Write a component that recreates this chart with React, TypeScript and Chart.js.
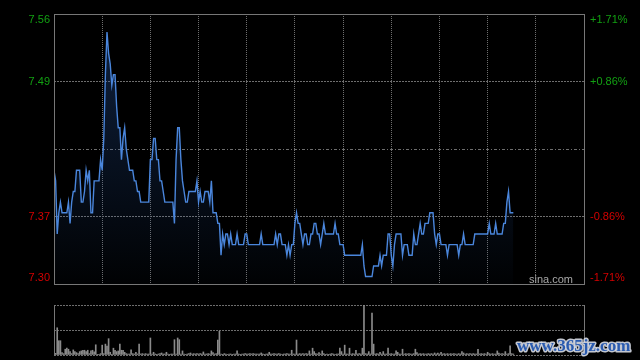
import React, { useEffect, useRef } from "react";
import { Chart, registerables } from "chart.js";

Chart.register(...registerables);

// Hong Kong session: 09:30-12:00, 13:00-16:00 -> 330 minutes, gridline every 30 minutes
const sessionMinutes = 330;
const gridStep = 30;

// Minute prices (index = minute since open)
const prices = [
  7.41, 7.40, 7.35, 7.37, 7.38, 7.37, 7.37, 7.37, 7.37, 7.38,
  7.36, 7.38, 7.39, 7.39, 7.41, 7.41, 7.41, 7.38, 7.38, 7.39,
  7.41, 7.40, 7.41, 7.37, 7.37, 7.40, 7.40, 7.40, 7.40, 7.42,
  7.41, 7.44, 7.50, 7.54, 7.52, 7.51, 7.49, 7.50, 7.50, 7.47,
  7.45, 7.45, 7.42, 7.44, 7.45, 7.43, 7.42, 7.41, 7.41, 7.41,
  7.40, 7.40, 7.39, 7.39, 7.38, 7.38, 7.38, 7.38, 7.38, 7.38,
  7.42, 7.42, 7.44, 7.44, 7.42, 7.42, 7.40, 7.40, 7.39, 7.38,
  7.38, 7.38, 7.38, 7.38, 7.38, 7.36, 7.42, 7.45, 7.45, 7.42,
  7.40, 7.39, 7.38, 7.38, 7.39, 7.39, 7.39, 7.39, 7.39, 7.40,
  7.38, 7.39, 7.38, 7.38, 7.39, 7.39, 7.39, 7.38, 7.40, 7.37,
  7.37, 7.37, 7.36, 7.36, 7.33, 7.35, 7.34, 7.35, 7.35, 7.34,
  7.35, 7.34, 7.34, 7.34, 7.35, 7.34, 7.34, 7.34, 7.34, 7.35,
  7.35, 7.34, 7.34, 7.34, 7.34, 7.34, 7.34, 7.34, 7.34, 7.35,
  7.34, 7.34, 7.34, 7.34, 7.34, 7.34, 7.34, 7.34, 7.35, 7.34,
  7.35, 7.35, 7.34, 7.34, 7.34, 7.33, 7.34, 7.33, 7.34, 7.34,
  7.36, 7.37, 7.36, 7.36, 7.35, 7.34, 7.35, 7.35, 7.34, 7.34,
  7.35, 7.35, 7.36, 7.36, 7.35, 7.35, 7.34, 7.35, 7.36, 7.35,
  7.35, 7.35, 7.35, 7.35, 7.35, 7.36, 7.35, 7.35, 7.34, 7.34,
  7.34, 7.33, 7.33, 7.33, 7.33, 7.33, 7.33, 7.33, 7.33, 7.33,
  7.33, 7.33, 7.34, 7.32, 7.31, 7.31, 7.31, 7.31, 7.31, 7.32,
  7.32, 7.32, 7.32, 7.33, 7.32, 7.33, 7.33, 7.33, 7.35, 7.35,
  7.33, 7.32, 7.34, 7.35, 7.35, 7.35, 7.35, 7.33, 7.34, 7.34,
  7.34, 7.33, 7.33, 7.33, 7.35, 7.34, 7.34, 7.35, 7.36, 7.35,
  7.35, 7.36, 7.36, 7.36, 7.37, 7.37, 7.37, 7.35, 7.34, 7.35,
  7.35, 7.34, 7.34, 7.34, 7.34, 7.33, 7.34, 7.34, 7.34, 7.34,
  7.34, 7.34, 7.33, 7.34, 7.34, 7.35, 7.34, 7.34, 7.34, 7.34,
  7.34, 7.34, 7.35, 7.35, 7.35, 7.35, 7.35, 7.35, 7.35, 7.35,
  7.35, 7.36, 7.35, 7.35, 7.35, 7.36, 7.35, 7.35, 7.35, 7.35,
  7.36, 7.36, 7.38, 7.39, 7.37, 7.37, 7.37,
];

// Minute volumes (relative units)
const volumes = [
  80, 5, 80, 42, 42, 7, 4, 17, 20, 17,
  10, 4, 15, 10, 7, 4, 10, 12, 14, 14,
  10, 14, 4, 12, 14, 9, 30, 2, 2, 4,
  29, 4, 32, 26, 48, 8, 2, 20, 14, 10,
  12, 32, 14, 14, 8, 4, 3, 3, 15, 4,
  3, 8, 3, 32, 3, 4, 3, 4, 3, 3,
  50, 3, 8, 3, 2, 3, 4, 6, 3, 3,
  8, 3, 2, 3, 3, 45, 3, 50, 45, 3,
  12, 3, 2, 3, 4, 6, 3, 4, 3, 4,
  3, 4, 3, 9, 3, 3, 4, 3, 12, 7,
  3, 4, 44, 70, 3, 2, 4, 3, 2, 3,
  3, 2, 3, 3, 12, 3, 2, 3, 3, 4,
  3, 3, 4, 3, 4, 3, 3, 3, 3, 6,
  3, 2, 3, 3, 8, 3, 3, 4, 3, 3,
  4, 3, 2, 3, 3, 4, 3, 3, 14, 3,
  3, 44, 3, 4, 3, 4, 3, 4, 3, 12,
  3, 20, 10, 4, 3, 7, 3, 12, 4, 2,
  3, 2, 3, 4, 3, 2, 3, 3, 20, 10,
  3, 29, 3, 3, 20, 3, 4, 3, 14, 3,
  4, 3, 20, 147, 4, 3, 10, 3, 123, 32,
  3, 4, 3, 8, 3, 10, 3, 3, 20, 3,
  4, 3, 3, 12, 8, 3, 3, 17, 3, 4,
  3, 4, 3, 3, 4, 17, 7, 3, 4, 3,
  4, 3, 3, 4, 3, 4, 3, 6, 3, 6,
  3, 8, 3, 4, 3, 4, 3, 4, 3, 4,
  3, 3, 4, 3, 10, 6, 3, 4, 3, 4,
  3, 4, 3, 3, 17, 3, 4, 3, 4, 3,
  8, 4, 3, 4, 3, 3, 12, 6, 3, 4,
  3, 10, 3, 4, 27, 4, 3,
];

const prevClose = 7.43;
const priceMin = 7.303;
const priceMax = 7.557;
const priceTickValues = [7.557, 7.4935, 7.43, 7.3665, 7.303];
const leftTickLabels = ["7.56", "7.49", "", "7.37", "7.30"];
const rightTickLabels = ["+1.71%", "+0.86%", "", "-0.86%", "-1.71%"];

const volumeMax = 147;
const volumeTickValues = [0, 73.5, 147];

const GREEN = "#12a012";
const RED = "#d40000";
const GRID = "#6e6e6e";
const FRAME = "#777777";
const LINE = "#4a86dc";
const FONT = '11px "Liberation Sans", Arial, sans-serif';

export default function App() {
  const priceRef = useRef<HTMLCanvasElement>(null);
  const volRef = useRef<HTMLCanvasElement>(null);

  useEffect(() => {
    document.body.style.margin = "0";
    document.body.style.background = "#000";

    const pricePlugin = {
      id: "priceDecor",
      afterDraw(chart: any) {
        const { ctx, chartArea: a, scales } = chart;
        const ys = scales.y;
        ctx.save();
        ctx.strokeStyle = FRAME;
        ctx.lineWidth = 1;
        ctx.setLineDash([]);
        ctx.strokeRect(a.left + 0.5, a.top + 0.5, a.right - a.left, a.bottom - a.top);
        ctx.font = FONT;
        ctx.textBaseline = "middle";
        priceTickValues.forEach((v, k) => {
          let py = ys.getPixelForValue(v);
          py = Math.min(Math.max(py, a.top + 6), a.bottom - 6);
          ctx.fillStyle = v > prevClose ? GREEN : RED;
          if (leftTickLabels[k]) {
            ctx.textAlign = "right";
            ctx.fillText(leftTickLabels[k], a.left - 4, py);
          }
          if (rightTickLabels[k]) {
            ctx.textAlign = "left";
            ctx.fillText(rightTickLabels[k], a.right + 6, py);
          }
        });
        ctx.fillStyle = "#a8a8a8";
        ctx.textAlign = "right";
        ctx.textBaseline = "alphabetic";
        ctx.fillText("sina.com", a.right - 11, a.bottom - 1);
        ctx.restore();
      },
    };

    const volPlugin = {
      id: "volDecor",
      afterDraw(chart: any) {
        const { ctx, chartArea: a } = chart;
        ctx.save();
        ctx.strokeStyle = FRAME;
        ctx.lineWidth = 1;
        ctx.beginPath();
        ctx.moveTo(a.left + 0.5, a.top);
        ctx.lineTo(a.left + 0.5, a.bottom + 1);
        ctx.moveTo(a.right + 0.5, a.top);
        ctx.lineTo(a.right + 0.5, a.bottom + 1);
        ctx.stroke();
        ctx.font = 'bold 17px "Liberation Serif", "Times New Roman", serif';
        ctx.textAlign = "left";
        ctx.textBaseline = "alphabetic";
        ctx.lineJoin = "round";
        ctx.lineWidth = 3;
        ctx.strokeStyle = "rgba(215,220,230,0.9)";
        ctx.strokeText("www.365jz.com", 517, 61);
        ctx.fillStyle = "#2a5bb0";
        ctx.fillText("www.365jz.com", 517, 61);
        ctx.restore();
      },
    };

    const priceChart = new Chart(priceRef.current as HTMLCanvasElement, {
      type: "line",
      data: {
        datasets: [
          {
            data: prices.map((p, i) => ({ x: i, y: p })),
            borderColor: LINE,
            borderWidth: 1.4,
            pointRadius: 0,
            tension: 0,
            fill: "start",
            backgroundColor: (c: any) => {
              const a = c.chart.chartArea;
              if (!a) return "rgba(0,0,0,0)";
              const g = c.chart.ctx.createLinearGradient(0, a.top, 0, a.bottom);
              g.addColorStop(0, "rgba(40,90,170,0.38)");
              g.addColorStop(1, "rgba(40,90,170,0.02)");
              return g;
            },
          },
        ],
      },
      options: {
        animation: false,
        responsive: false,
        events: [],
        layout: { padding: { left: 54, right: 56, top: 14, bottom: 6 } },
        plugins: { legend: { display: false }, tooltip: { enabled: false } },
        scales: {
          x: {
            type: "linear",
            min: 0,
            max: sessionMinutes,
            ticks: { display: false, stepSize: gridStep },
            grid: { color: GRID, lineWidth: 1, drawTicks: false },
            border: { display: false, dash: [1, 1] },
            afterFit: (s: any) => {
              s.height = 0;
            },
          },
          y: {
            type: "linear",
            min: priceMin,
            max: priceMax,
            ticks: { display: false },
            afterBuildTicks: (s: any) => {
              s.ticks = priceTickValues.map((v) => ({ value: v }));
            },
            grid: { color: GRID, lineWidth: 1, drawTicks: false },
            border: {
              display: false,
              dash: (ctx: any) =>
                ctx.tick && Math.abs(ctx.tick.value - prevClose) < 1e-6 ? [3, 2, 1, 2] : [2, 1],
            },
            afterFit: (s: any) => {
              s.width = 0;
            },
          },
        },
      },
      plugins: [pricePlugin],
    } as any);

    const volChart = new Chart(volRef.current as HTMLCanvasElement, {
      type: "bar",
      data: {
        datasets: [
          {
            data: volumes.map((v, i) => ({ x: i, y: v })),
            backgroundColor: "#8a8a8a",
            barThickness: 1,
            borderWidth: 0,
          },
        ],
      },
      options: {
        animation: false,
        responsive: false,
        events: [],
        layout: { padding: { left: 54, right: 56, top: 15, bottom: 5 } },
        plugins: { legend: { display: false }, tooltip: { enabled: false } },
        scales: {
          x: {
            type: "linear",
            min: 0,
            max: sessionMinutes,
            offset: false,
            ticks: { display: false },
            grid: { display: false },
            border: { display: false },
            afterFit: (s: any) => {
              s.height = 0;
            },
          },
          y: {
            type: "linear",
            min: 0,
            max: volumeMax,
            ticks: { display: false },
            afterBuildTicks: (s: any) => {
              s.ticks = volumeTickValues.map((v) => ({ value: v }));
            },
            grid: { color: GRID, lineWidth: 1, drawTicks: false },
            border: { display: false, dash: [2, 1] },
            afterFit: (s: any) => {
              s.width = 0;
            },
          },
        },
      },
      plugins: [volPlugin],
    } as any);

    return () => {
      priceChart.destroy();
      volChart.destroy();
    };
  }, []);

  return (
    <div style={{ position: "fixed", left: 0, top: 0, width: 640, height: 360, background: "#000", overflow: "hidden" }}>
      <canvas
        ref={priceRef}
        width={640}
        height={290}
        style={{ position: "absolute", left: 0, top: 0, width: 640, height: 290 }}
      />
      <canvas
        ref={volRef}
        width={640}
        height={70}
        style={{ position: "absolute", left: 0, top: 290, width: 640, height: 70 }}
      />
    </div>
  );
}
